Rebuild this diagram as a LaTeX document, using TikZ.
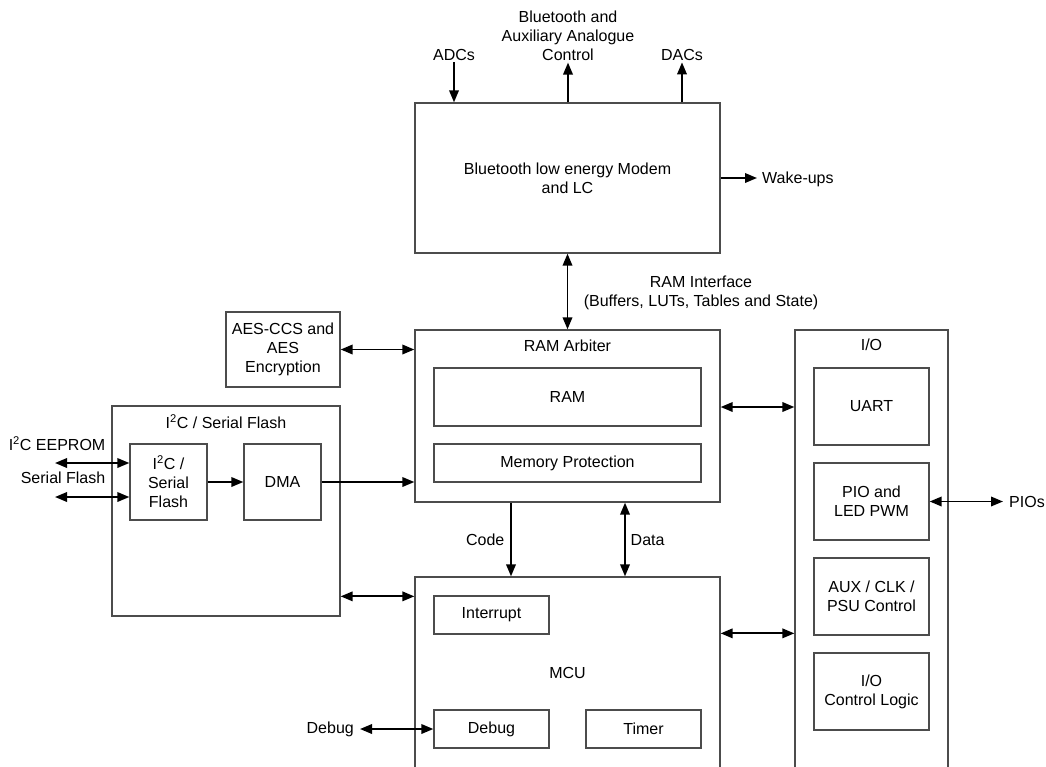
\documentclass[tikz,border=0pt]{standalone}
\usepackage{fontspec}
\setmainfont{Liberation Sans}
\usetikzlibrary{arrows.meta,calc}
\tikzset{
 box/.style={draw=black!70, line width=1.3pt, rectangle, inner sep=0pt, align=center},
 lbl/.style={inner sep=1.5pt, align=center},
 tip/.tip={Triangle[length=12pt,width=9.5pt]},
 conn/.style={draw=black, line width=1.9pt, -tip},
 biconn/.style={draw=black, line width=1.9pt, tip-tip},
}
\begin{document}
\begin{tikzpicture}[x=1pt,y=-1pt, font=\fontsize{16}{19}\selectfont]
\useasboundingbox (0,0) rectangle (1046,766);
\clip (0,0) rectangle (1046,766);

% main boxes
\node[box, minimum width=305pt, minimum height=150pt] (ble) at (567.5,178) {Bluetooth low energy Modem\\and LC};
\node[box, minimum width=305pt, minimum height=172pt] (arb) at (567.5,416) {};
\node[lbl] (arbt) at (567.5,346) {RAM Arbiter};
\node[box, minimum width=267pt, minimum height=58pt] (ram) at (567.5,397) {RAM};
\node[box, minimum width=267pt, minimum height=38pt] (mp) at (567.5,463) {Memory Protection};

\node[box, minimum width=305pt, minimum height=191pt] (mcu) at (567.5,672.5) {MCU};
\node[box, minimum width=115pt, minimum height=38pt] (int) at (491.5,615) {Interrupt};
\node[box, minimum width=115pt, minimum height=38pt] (debug) at (491.5,729) {Debug};
\node[box, minimum width=115pt, minimum height=38pt] (timer) at (643.5,729) {Timer};

\node[box, minimum width=114pt, minimum height=75pt] (aes) at (283,349.5) {AES-CCS and\\AES\\Encryption};

\node[box, minimum width=228pt, minimum height=210pt] (flash) at (226,511) {};
\node[lbl] (flasht) at (226,422) {I\textsuperscript{2}C / Serial Flash};
\node[box, minimum width=77pt, minimum height=76pt] (i2c) at (168.5,482) {I\textsuperscript{2}C /\\Serial\\Flash};
\node[box, minimum width=77pt, minimum height=76pt] (dma) at (282.5,482) {DMA};

\node[box, minimum width=153pt, minimum height=438pt] (io) at (871.5,549) {};
\node[lbl] (iot) at (871.5,345) {I/O};
\node[box, minimum width=115pt, minimum height=77pt] (uart) at (871.5,406.5) {UART};
\node[box, minimum width=115pt, minimum height=77pt] (pio) at (871.5,501.5) {PIO and\\LED PWM};
\node[box, minimum width=115pt, minimum height=77pt] (aux) at (871.5,596.5) {AUX / CLK /\\PSU Control};
\node[box, minimum width=115pt, minimum height=77pt] (ioc) at (871.5,691.5) {I/O\\Control Logic};

% labels
\node[lbl] (adcs) at (454,55) {ADCs};
\node[lbl] (btaux) at (568,36) {Bluetooth and\\Auxiliary Analogue\\Control};
\node[lbl] (dacs) at (682,55) {DACs};
\node[lbl, anchor=west, inner xsep=5pt] (wake) at (757,179) {Wake-ups};
\node[lbl] (ramif) at (701,293) {RAM Interface\\(Buffers, LUTs, Tables and State)};
\node[lbl, anchor=east] (code) at (506,540) {Code};
\node[lbl, anchor=west] (data) at (629,540) {Data};
\node[lbl, anchor=east] (eeprom) at (107,444) {I\textsuperscript{2}C EEPROM};
\node[lbl, anchor=east] (sflash) at (107,478) {Serial Flash};
\node[lbl, anchor=east, inner xsep=6pt] (dbgl) at (360,729) {Debug};
\node[lbl, anchor=west, inner xsep=6pt] (pios) at (1003,501.5) {PIOs};

% connectors
\draw[conn] (adcs.south) -- (adcs.south |- ble.north);
\draw[conn] (ble.north -| btaux.south) -- (btaux.south);
\draw[conn] (dacs.south |- ble.north) -- (dacs.south);
\draw[conn] (ble.east) -- (ble.east -| wake.west);
\draw[biconn] (ble.south) -- (arb.north);
\draw[biconn] (aes.east) -- (aes.east -| arb.west);

\coordinate (e1) at (55,463);
\coordinate (e2) at (55,497);
\draw[biconn] (e1) -- (e1 -| i2c.west);
\draw[biconn] (e2) -- (e2 -| i2c.west);
\draw[conn] (i2c.east) -- (dma.west);
\draw[conn] (dma.east) -- (dma.east -| arb.west);

\coordinate (m1) at ([yshift=-20pt]mcu.north west);
\draw[biconn] (flash.east |- m1) -- (m1);

\draw[conn] ([xshift=-56.5pt]arb.south) -- ([xshift=-56.5pt]mcu.north);
\draw[biconn] ([xshift=57.5pt]arb.south) -- ([xshift=57.5pt]mcu.north);

\coordinate (a1) at ([yshift=9pt]arb.east);
\draw[biconn] (a1) -- (a1 -| io.west);
\coordinate (m2) at ([yshift=-57pt]mcu.north east);
\draw[biconn] (m2) -- (m2 -| io.west);

\draw[biconn] (dbgl.east |- debug.west) -- (debug.west);
\draw[biconn] (pio.east) -- (pio.east -| pios.west);
\end{tikzpicture}
\end{document}
